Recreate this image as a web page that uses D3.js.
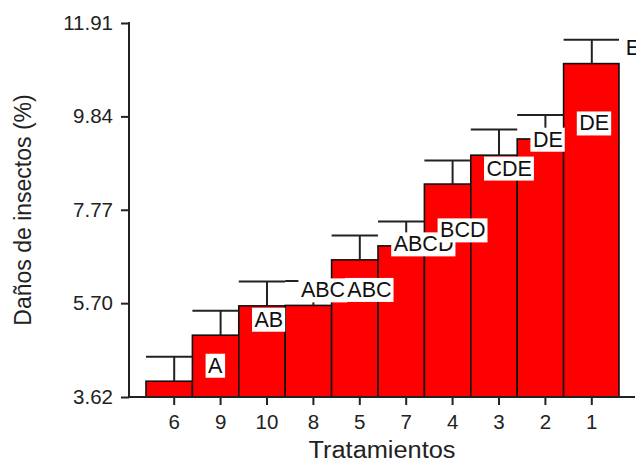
<!DOCTYPE html>
<html>
<head>
<meta charset="utf-8">
<script src="https://cdn.jsdelivr.net/npm/d3@7"></script>
<style>
  html, body { margin: 0; padding: 0; background: #fff; }
  svg { display: block; font-family: "Liberation Sans", Arial, sans-serif; }
</style>
</head>
<body>
<div id="chart"></div>
<script>
// Treatment order as drawn (ascending damage)
const categories = ['6', '9', '10', '8', '5', '7', '4', '3', '2', '1'];
// Mean insect damage (%) per treatment
const means = [3.97, 4.99, 5.64, 5.65, 6.66, 6.97, 8.34, 8.98, 9.34, 11.01];
// Error bar (upper) length
const errors = [0.54, 0.54, 0.54, 0.54, 0.54, 0.54, 0.52, 0.57, 0.53, 0.53];
// Significance letters
const letters = ['A', 'AB', 'ABC', 'ABC', 'ABCD', 'BCD', 'CDE', 'DE', 'DE', 'E'];
// Y axis tick labels
const yTicks = [3.62, 5.70, 7.77, 9.84, 11.91];

const width = 636, height = 461;
const plotLeft = 129, plotTop = 23, plotBottom = 397, plotRight = 635;

const svg = d3.select('#chart').append('svg')
  .attr('width', width)
  .attr('height', height);

const x = d3.scaleBand()
  .domain(categories)
  .range([151, 615])
  .paddingInner(0)
  .paddingOuter(0);
const step = x.step();

const y = d3.scaleLinear()
  .domain([yTicks[0], yTicks[yTicks.length - 1]])
  .range([plotBottom, plotTop]);

const data = categories.map((c, i) => ({ c, v: means[i], e: errors[i], l: letters[i], i }));

// bar extent (bars sit slightly left of tick; last one runs wider)
const barX0 = d => x(d.c) - 5;
const barX1 = d => x(d.c) + step - 5 + (d.i === categories.length - 1 ? 9 : 0);

// bars
svg.append('g').selectAll('rect')
  .data(data)
  .join('rect')
  .attr('x', barX0)
  .attr('y', d => y(d.v))
  .attr('width', d => barX1(d) - barX0(d))
  .attr('height', d => plotBottom - y(d.v))
  .attr('fill', '#ff0000')
  .attr('stroke', '#111')
  .attr('stroke-width', 1.6);

// error bars
const eb = svg.append('g').attr('stroke', '#222').attr('stroke-width', 2);
eb.selectAll('line.v')
  .data(data)
  .join('line')
  .attr('class', 'v')
  .attr('x1', d => x(d.c) + step / 2)
  .attr('x2', d => x(d.c) + step / 2)
  .attr('y1', d => y(d.v))
  .attr('y2', d => y(d.v + d.e));
eb.selectAll('line.cap')
  .data(data)
  .join('line')
  .attr('class', 'cap')
  .attr('x1', barX0)
  .attr('x2', barX1)
  .attr('y1', d => y(d.v + d.e))
  .attr('y2', d => y(d.v + d.e));

// letter labels (drawn one slot to the right, as in the original)
const lab = svg.append('g');
data.forEach(d => {
  const g = lab.append('g');
  const tx = x(d.c) + step * 1.5 - 12.5;
  const ty = y(d.v) - 16;
  const t = g.append('text')
    .attr('x', tx)
    .attr('y', ty)
    .attr('dy', '0.35em')
    .attr('font-size', 21.5)
    .attr('fill', '#111')
    .text(d.l);
  const bb = t.node().getBBox();
  g.insert('rect', 'text')
    .attr('x', bb.x - 2.5)
    .attr('y', bb.y)
    .attr('width', bb.width + 4.5)
    .attr('height', bb.height)
    .attr('fill', '#fff');
});

// axes
const yAxis = svg.append('g')
  .attr('transform', `translate(${plotLeft},0)`)
  .call(d3.axisLeft(y).tickValues(yTicks).tickFormat(d3.format('.2f')).tickSize(8).tickPadding(8));
yAxis.select('.domain').remove();

const xAxis = svg.append('g')
  .attr('transform', `translate(0,${plotBottom})`)
  .call(d3.axisBottom(x).tickSize(8).tickPadding(9));
xAxis.select('.domain').remove();

svg.selectAll('.tick line').attr('stroke', '#222').attr('stroke-width', 2);
svg.selectAll('.tick text')
  .attr('font-size', 20.5)
  .attr('font-family', '"Liberation Sans", Arial, sans-serif')
  .attr('fill', '#222');

svg.append('line')
  .attr('x1', plotLeft).attr('x2', plotLeft)
  .attr('y1', plotTop - 1).attr('y2', plotBottom + 1)
  .attr('stroke', '#222').attr('stroke-width', 2);
svg.append('line')
  .attr('x1', plotLeft).attr('x2', plotRight)
  .attr('y1', plotBottom).attr('y2', plotBottom)
  .attr('stroke', '#222').attr('stroke-width', 2);

// titles
svg.append('text')
  .attr('x', (plotLeft + plotRight) / 2)
  .attr('y', 458)
  .attr('text-anchor', 'middle')
  .attr('font-size', 23)
  .attr('textLength', 147)
  .attr('lengthAdjust', 'spacingAndGlyphs')
  .attr('fill', '#222')
  .text('Tratamientos');

svg.append('text')
  .attr('transform', `translate(31,${(plotTop + plotBottom) / 2}) rotate(-90)`)
  .attr('text-anchor', 'middle')
  .attr('font-size', 23)
  .attr('fill', '#222')
  .text('Daños de insectos (%)');
</script>
</body>
</html>
